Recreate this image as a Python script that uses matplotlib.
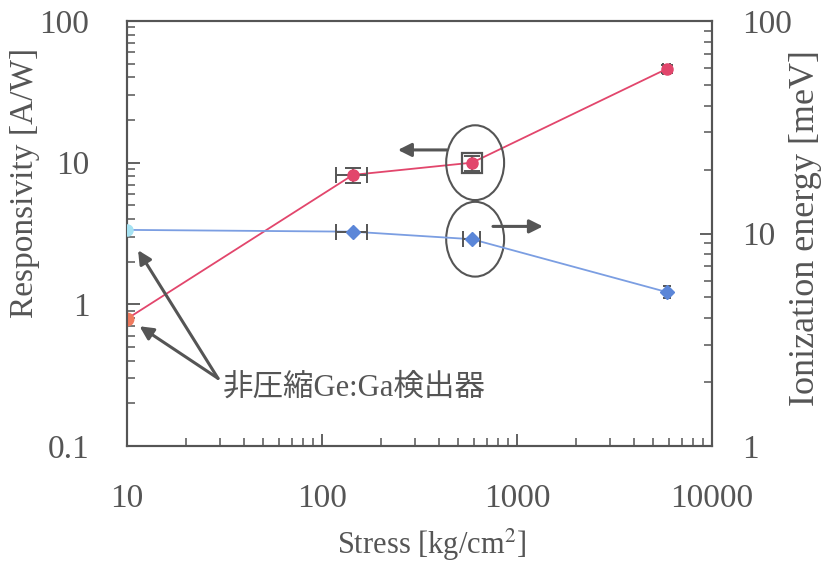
import numpy as np
import matplotlib.pyplot as plt
from matplotlib.patches import Ellipse

plt.rcParams['font.family'] = ['Liberation Serif', 'Noto Sans CJK JP']
plt.rcParams['mathtext.fontset'] = 'stix'

# 応力と感度・イオン化エネルギー
stress = [10, 144, 588, 5870]
stress_err = [0, 26, 60, 250]
resp = [0.79, 8.2, 10.0, 46]
resp_err = [0, 1.0, 1.2, 3.0]
ion_energy = [10.4, 10.2, 9.4, 5.3]
ion_err = [0, 0, 0, 0.35]

xticks = [10, 100, 1000, 10000]
xtick_labels = ['10', '100', '1000', '10000']
yticks_left = [0.1, 1, 10, 100]
yticks_left_labels = ['0.1', '1', '10', '100']
yticks_right = [1, 10, 100]
yticks_right_labels = ['1', '10', '100']

gray = '#555555'
red = '#e2466c'
blue = '#5b86d8'

fig = plt.figure(figsize=(8.22, 5.68), dpi=100)
ax = fig.add_axes([0.1545, 0.2148, 0.7117, 0.7482])
ax2 = ax.twinx()

ax.set_xscale('log')
ax.set_yscale('log')
ax2.set_yscale('log')
ax.set_xlim(10, 10000)
ax.set_ylim(0.1, 100)
ax2.set_ylim(1, 100)

# responsivity (left axis)
ax.plot(stress, resp, '-', color=red, lw=1.3, zorder=3)
ax.errorbar(stress[1:3], resp[1:3], xerr=[stress_err[1], 0], yerr=resp_err[1:3],
            fmt='none', ecolor=gray, elinewidth=1.4, capsize=6, capthick=1.4, zorder=4)
ax.errorbar(stress[3], resp[3], yerr=resp_err[3], xerr=stress_err[3], fmt='none',
            ecolor=gray, elinewidth=1.4, capsize=4, capthick=1.4, zorder=4)
ax.plot(stress[1:], resp[1:], 'o', color=red, ms=8, zorder=5)
ax.plot(stress[2], resp[2], 's', mfc='none', mec=gray, mew=1.6, ms=14, zorder=5)
ax.plot(stress[0], resp[0], 'o', color='#f07a5e', ms=9, zorder=5)

# ionization energy (right axis)
ax2.plot(stress, ion_energy, '-', color='#7b9ee2', lw=1.3, zorder=3)
ax2.errorbar(stress[1:3], ion_energy[1:3], xerr=stress_err[1:3],
             fmt='none', ecolor=gray, elinewidth=1.4, capsize=6, capthick=1.4, zorder=4)
ax2.errorbar(stress[3], ion_energy[3], yerr=ion_err[3], fmt='none',
             ecolor=gray, elinewidth=1.4, capsize=3, capthick=1.4, zorder=4)
ax2.plot(stress[1:], ion_energy[1:], 'D', color=blue, ms=7, zorder=5)
ax2.plot(stress[0], ion_energy[0], 'o', color='#a6e2f2', ms=8, zorder=5)

# axes styling
for a in (ax, ax2):
    for s in a.spines.values():
        s.set_color(gray)
        s.set_linewidth(1.5)
ax.tick_params(axis='both', which='major', direction='in', length=9, width=1.3,
               color=gray, labelcolor=gray, labelsize=24, top=False, right=False)
ax.tick_params(axis='both', which='minor', direction='in', length=6, width=1.1,
               color=gray, top=False, right=False)
ax.tick_params(axis='x', which='major', pad=27)
ax.tick_params(axis='y', which='major', pad=27)
ax2.tick_params(axis='y', which='major', direction='in', length=9, width=1.3,
                color=gray, labelcolor=gray, labelsize=24, pad=22)
ax2.tick_params(axis='y', which='minor', direction='in', length=6, width=1.1, color=gray)

ax.set_xticks(xticks)
ax.set_xticklabels(xtick_labels)
ax.set_yticks(yticks_left)
ax.set_yticklabels(yticks_left_labels)
ax2.set_yticks(yticks_right)
ax2.set_yticklabels(yticks_right_labels)

ax.set_xlabel('Stress [kg/cm$^2$]', fontsize=22, color=gray)
ax.set_ylabel('Responsivity [A/W]', fontsize=24, color=gray)
ax2.set_ylabel('Ionization energy [meV]', fontsize=26, color=gray)
ax.xaxis.set_label_coords(0.521, -0.233)
ax.yaxis.set_label_coords(-0.174, 0.619)
ax2.yaxis.set_label_coords(1.159, 0.513)
ax.xaxis.label.set_va('center')
ax.yaxis.label.set_va('center')
ax2.yaxis.label.set_va('center')

# ellipses around the 600 kg/cm2 points
to_axes = ax.transAxes.inverted()
c1 = to_axes.transform(ax.transData.transform((610, 10.0)))
c2 = to_axes.transform(ax2.transData.transform((610, 9.4)))
for c in (c1, c2):
    ax.add_patch(Ellipse(c, 0.099, 0.176, transform=ax.transAxes, fill=False,
                         ec=gray, lw=1.5, zorder=6))

arrow = dict(arrowstyle='-|>', color=gray, lw=2.2, mutation_scale=20,
             shrinkA=0, shrinkB=0)
ax.annotate('', xy=(245, 12.3), xytext=(437, 12.3), arrowprops=arrow, zorder=6)
ax2.annotate('', xy=(1358, 10.8), xytext=(753, 10.8), arrowprops=arrow, zorder=6)

# unstressed detector label
ax.text(31, 0.255, '非圧縮Ge:Ga検出器', fontsize=22, color=gray, va='center', ha='left')
ax.annotate('', xy=(11.4, 2.41), xytext=(29.3, 0.30), arrowprops=arrow)
ax.annotate('', xy=(11.6, 0.70), xytext=(29.3, 0.30), arrowprops=arrow)

fig.savefig('out.png', dpi=100)
